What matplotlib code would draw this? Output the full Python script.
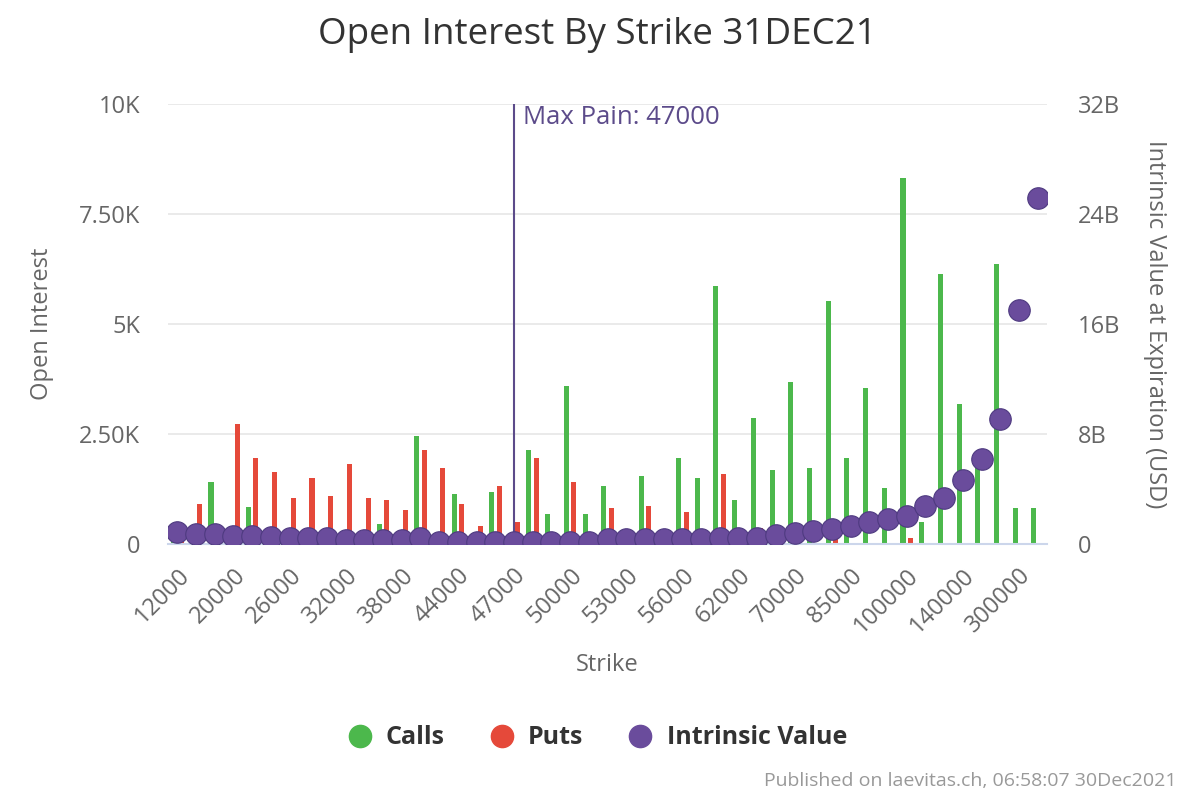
import matplotlib.pyplot as plt
import numpy as np
from matplotlib.lines import Line2D
from matplotlib.ticker import FuncFormatter

plt.rcParams['font.family'] = ['Open Sans', 'DejaVu Sans']

# strikes (category axis)
strikes = [12000, 15000, 18000, 20000, 22000, 24000, 26000, 28000, 30000, 32000,
           34000, 36000, 38000, 40000, 42000, 44000, 45000, 46000, 47000, 48000,
           49000, 50000, 51000, 52000, 53000, 54000, 55000, 56000, 58000, 60000,
           62000, 64000, 66000, 70000, 75000, 80000, 85000, 90000, 95000, 100000,
           110000, 120000, 140000, 150000, 200000, 300000, 400000]

# open interest, calls and puts
calls = [50, 30, 1410, 50, 840, 20, 20, 20, 20, 20,
         20, 450, 50, 2450, 50, 1140, 50, 1180, 250, 2140,
         680, 3590, 680, 1320, 20, 1550, 300, 1950, 1500, 5860,
         1000, 2860, 1680, 3680, 1730, 5520, 1950, 3550, 1270, 8320,
         500, 6140, 3180, 1750, 6360, 820, 820]
puts = [150, 910, 120, 2730, 1950, 1640, 1050, 1500, 1090, 1820,
        1040, 1000, 770, 2140, 1720, 910, 410, 1320, 500, 1950,
        20, 1410, 20, 820, 20, 860, 20, 730, 20, 1590,
        20, 360, 20, 80, 20, 140, 20, 20, 20, 140,
        20, 20, 20, 20, 20, 20, 20]

# intrinsic value at expiration, billions USD
intrinsic = [0.87, 0.75, 0.73, 0.6, 0.6, 0.48, 0.47, 0.46, 0.45, 0.3,
             0.3, 0.3, 0.3, 0.42, 0.15, 0.15, 0.15, 0.15, 0.15, 0.15,
             0.15, 0.15, 0.15, 0.36, 0.36, 0.36, 0.36, 0.36, 0.36, 0.44,
             0.44, 0.44, 0.65, 0.8, 0.95, 1.09, 1.31, 1.6, 1.82, 2.04,
             2.76, 3.35, 4.65, 6.18, 9.09, 17.0, 25.2]

max_pain = 47000

green = '#4cb84c'
red = '#e5493a'
purple = '#6a4c9c'
grey = '#666666'

fig = plt.figure(figsize=(11.94, 7.96), dpi=100)
ax = fig.add_axes([168 / 1194, 252 / 796, 879 / 1194, 440 / 796])

x = np.arange(len(strikes))
ax.bar(x - 0.2, calls, width=0.27, color=green, zorder=2)
ax.bar(x + 0.2, puts, width=0.27, color=red, zorder=2)

mp = strikes.index(max_pain)
ax.axvline(mp, color='#5c4b8a', lw=1.5, zorder=3)
ax.text(mp + 0.5, 9700, 'Max Pain: 47000', color='#5c4b8a', fontsize=18.5, va='center')

ax.set_xlim(-0.5, len(strikes) - 0.5)
ax.set_ylim(0, 10000)
ax.set_yticks([0, 2500, 5000, 7500, 10000])
ax.set_yticklabels(['0', '2.50K', '5K', '7.50K', '10K'])
ax.grid(axis='y', color='#e6e6e6', lw=1.2, zorder=0)
ax.set_axisbelow(True)
for s in ['top', 'right', 'left']:
    ax.spines[s].set_visible(False)
ax.spines['bottom'].set_color('#ccd6eb')
ax.spines['bottom'].set_linewidth(1.5)

ax.set_xticks(x[::3])
ax.set_xticklabels([str(s) for s in strikes[::3]], rotation=45, ha='right',
                   rotation_mode='anchor', fontsize=17, color=grey)
ax.tick_params(axis='x', length=0, pad=14)
ax.tick_params(axis='y', length=0, labelsize=17, labelcolor=grey, pad=20)
ax.set_xlabel('Strike', fontsize=17, color=grey, labelpad=11)
ax.set_ylabel('Open Interest', fontsize=17, color=grey, labelpad=18)

ax2 = ax.twinx()
ax2.scatter(x, np.array(intrinsic) * 1e9, s=240, color=purple,
            edgecolor='#4e3a80', linewidth=0.8, zorder=4)
ax2.set_ylim(0, 32e9)
ax2.set_yticks([0, 8e9, 16e9, 24e9, 32e9])
ax2.yaxis.set_major_formatter(FuncFormatter(lambda v, p: '0' if v == 0 else '%dB' % (v / 1e9)))
ax2.tick_params(axis='y', length=0, labelsize=17, labelcolor=grey, pad=22)
for s in ax2.spines.values():
    s.set_visible(False)
ax2.set_ylabel('Intrinsic Value at Expiration (USD)', fontsize=17, color=grey,
               rotation=270, labelpad=34)

fig.text(0.5, 1 - 35 / 796, 'Open Interest By Strike 31DEC21', ha='center', va='center',
         fontsize=26.5, color='#333333')

handles = [Line2D([], [], marker='o', ls='', markersize=16, color=c) for c in (green, red, purple)]
fig.legend(handles, ['Calls', 'Puts', 'Intrinsic Value'], loc='center',
           bbox_to_anchor=(0.5, 1 - 738 / 796), ncol=3, frameon=False,
           prop={'size': 18, 'weight': 'bold'}, labelcolor='#333333',
           handlelength=1.0, handletextpad=0.55, columnspacing=1.78)

fig.text(1 - 18 / 1194, 1 - 781 / 796, 'Published on laevitas.ch, 06:58:07 30Dec2021',
         ha='right', va='center', fontsize=14, color='#999999')

fig.savefig('out.png', dpi=100)
